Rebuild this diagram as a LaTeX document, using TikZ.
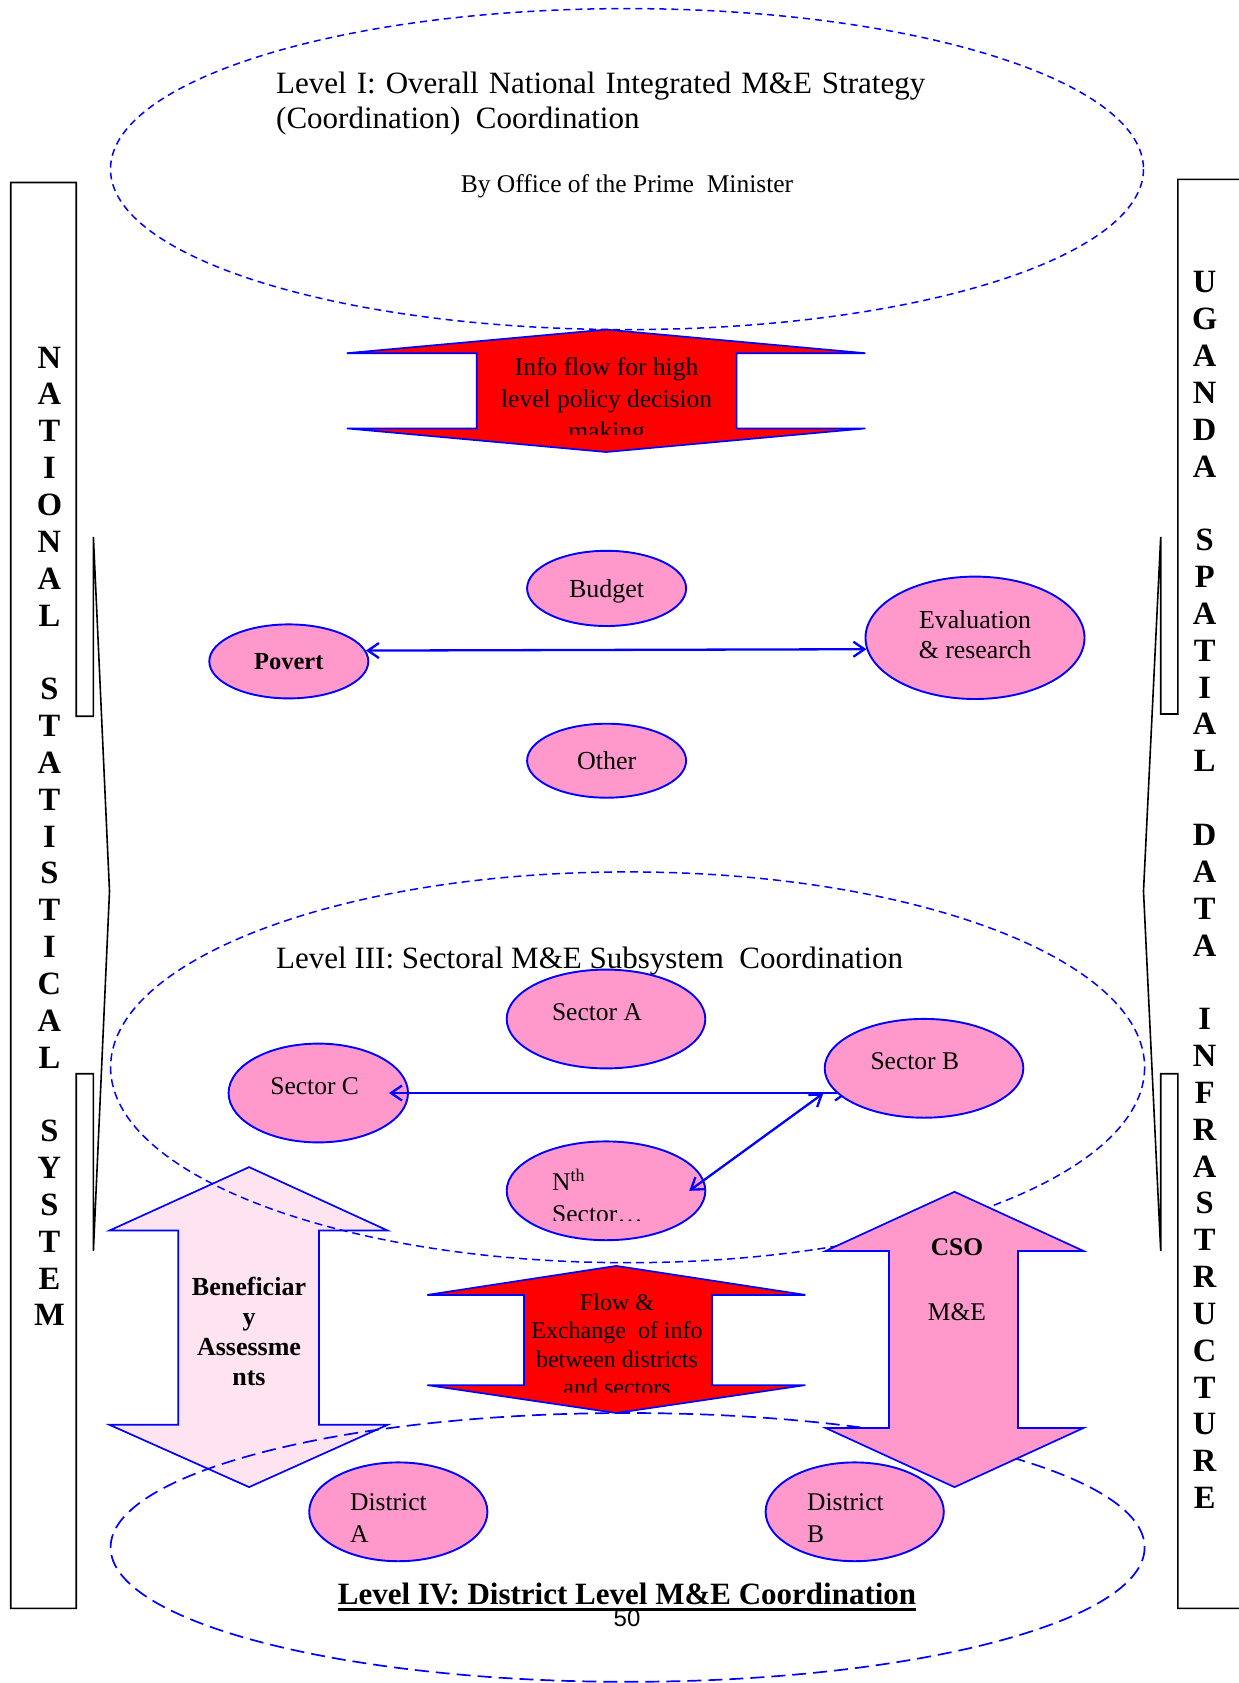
\documentclass[tikz,border=0pt]{standalone}
\usepackage{fontspec}
\setmainfont{Liberation Serif}
\newfontfamily\pagenumfont{Liberation Sans}
\usetikzlibrary{arrows.meta,shapes.geometric}

\definecolor{shapeblue}{RGB}{0,0,255}
\definecolor{bubblepink}{RGB}{255,153,204}
\definecolor{palepink}{RGB}{253,228,240}
\definecolor{flowred}{RGB}{255,0,0}

\newcommand{\fs}[2]{\fontsize{#1bp}{#2bp}\selectfont}
\newcommand{\tstrut}{\rule{0pt}{1em}}

\begin{document}
\begin{tikzpicture}[x=1bp, y=-1bp,
  ring/.style={draw=shapeblue, line width=1.5bp},
  bubble/.style={ellipse, draw=shapeblue, fill=bubblepink, line width=1.9bp,
    inner sep=0pt, align=center, font=\fs{26}{30}},
  blockarrow/.style={draw=shapeblue, line width=1.7bp, line join=miter},
  callout/.style={draw=black, line width=1.6bp, line join=miter},
  sideletters/.style={font=\bfseries\fs{32.5}{36.84}, align=center, inner sep=0pt},
  textblock/.style={anchor=north, inner sep=0pt, align=center},
  labeltext/.style={inner sep=0pt, font=\fs{25.5}{32}},
  link/.style={draw=shapeblue, line width=2.3bp,
    {Straight Barb[length=11bp,width=15bp]}-{Straight Barb[length=11bp,width=15bp]}},
]
\useasboundingbox (0,0) rectangle (1238,1683);

% side callouts
\draw[callout] (10.7,182.5) -- (76.2,182.5) -- (76.2,716.2) -- (93.4,716.2) -- (93.4,536.9)
  -- (109.5,891.2) -- (93.4,1250.9) -- (93.4,1073.7) -- (76.2,1073.7) -- (76.2,1608.4)
  -- (10.7,1608.4) -- cycle;
\draw[callout] (1250,179.3) -- (1177.9,179.3) -- (1177.9,714) -- (1160.7,714) -- (1160.7,536.9)
  -- (1143.5,891.2) -- (1160.7,1250.9) -- (1160.7,1073.7) -- (1177.9,1073.7) -- (1177.9,1608.4)
  -- (1250,1608.4);

% beneficiary assessments double arrow
\draw[blockarrow, fill=palepink] (249.1,1167.1) -- (387.6,1230.5) -- (318.9,1230.5) -- (318.9,1424.8)
  -- (387.6,1424.8) -- (249.1,1487.1) -- (109.5,1424.8) -- (178.2,1424.8) -- (178.2,1230.5)
  -- (109.5,1230.5) -- cycle;

% coordination levels
\draw[ring, dash pattern=on 7bp off 5bp] (627,169.1) ellipse [x radius=516.5, y radius=160.5];
\draw[ring, dash pattern=on 8bp off 5bp] (627.6,1067.3) ellipse [x radius=517, y radius=195.4];
\draw[ring, line width=1.7bp, dash pattern=on 14bp off 7bp] (627.6,1547.4) ellipse [x radius=517, y radius=134.4];

% level I texts
\node[anchor=base west, inner sep=0pt, font=\fs{31}{35.5}] (lvl1a) at (276,93.8)
  {\makebox[649bp][s]{Level I: Overall National Integrated M\&E Strategy}};
\node[anchor=base west, inner sep=0pt, font=\fs{31}{35.5}] (lvl1b) at (276,128.8)
  {(Coordination)\ \ Coordination};
\node[anchor=base, inner sep=0pt, font=\fs{25.5}{30}] (opm) at (627,192.2)
  {By Office of the Prime\ \ Minister};

% high level info flow arrow
\draw[blockarrow, fill=flowred] (606.1,329.6) -- (865.4,353.2) -- (736.6,353.2) -- (736.6,428.4)
  -- (865.4,428.4) -- (606.1,452) -- (346.8,428.4) -- (476.7,428.4) -- (476.7,353.2)
  -- (346.8,353.2) -- cycle;
\begin{scope}
  \clip (420,330) rectangle (800,434);
  \node[textblock, font=\fs{25.5}{32}] (infotext) at (606.6,350)
    {\tstrut Info flow for high\\level policy decision\\making};
\end{scope}

% level II bubbles
\node[bubble, minimum width=159bp, minimum height=75.2bp] (budget) at (606.6,588.4)
  {\rule{0pt}{23bp}Budget};
\node[bubble, minimum width=159bp, minimum height=74bp, font=\bfseries\fs{24.5}{30}] (pov) at (288.8,661.4) {Povert};
\node[bubble, minimum width=219bp, minimum height=122.4bp, font=\fs{25.8}{30}] (eval) at (975,637.8)
  {Evaluation\\\& research\rule[-7bp]{0pt}{7bp}};
\node[bubble, minimum width=159bp, minimum height=74bp] (other) at (606.6,760.7) {Other};
\draw[link] (pov.8.9) -- (eval.186.3);

% level III
\node[anchor=base west, inner sep=0pt, font=\fs{31}{35.5}] (lvl3) at (276,968.2)
  {Level III: Sectoral M\&E Subsystem\ \ Coordination};
\node[bubble, minimum width=198.6bp, minimum height=98.8bp] (secA) at (606,1019) {};
\node[bubble, minimum width=179.4bp, minimum height=98.8bp] (secC) at (318.3,1093) {};
\node[bubble, minimum width=198.6bp, minimum height=98.8bp] (nth) at (606,1190.8) {};
\node[labeltext, anchor=base] (secAtext) at (597,1020) {Sector A};
\node[labeltext, anchor=base] (secCtext) at (314.6,1094.1) {Sector C};
\begin{scope}
  \clip (540,1140) rectangle (700,1220);
  \node[labeltext, anchor=north west, align=left] (nthtext) at (552,1164.5)
    {\tstrut N\textsuperscript{th}\\Sector\ldots};
\end{scope}
% Sector B sits over the ends of the two links that meet it
\coordinate (secBc) at (924,1068.3);
\coordinate (jb) at ([shift={(-76,24.7)}]secBc);
\coordinate (jd) at ([shift={(-100.7,25)}]secBc);
\draw[link] ([xshift=-20bp]secC.east) -- (jb);
\draw[link] (jd) -- ([xshift=-17bp]nth.east);
\node[bubble, minimum width=198.6bp, minimum height=98.8bp] (secB) at (secBc) {};
\node[labeltext, anchor=base] (secBtext) at (914.8,1069.4) {Sector B};

% exchange between districts and sectors
\draw[blockarrow, fill=flowred] (616.3,1265.9) -- (805.3,1294.9) -- (711.9,1294.9) -- (711.9,1385.1)
  -- (805.3,1385.1) -- (616.3,1413) -- (427.3,1385.1) -- (524,1385.1) -- (524,1294.9)
  -- (427.3,1294.9) -- cycle;
\begin{scope}
  \clip (520,1270) rectangle (715,1392);
  \node[textblock, font=\fs{24}{28.4}] (flowtext) at (617,1286)
    {\tstrut Flow \&\\Exchange\ \ of info\\between districts\\and sectors};
\end{scope}

% CSO M&E double arrow
\draw[blockarrow, fill=bubblepink] (954.5,1191.8) -- (1083.4,1250.9) -- (1017.9,1250.9) -- (1017.9,1428)
  -- (1083.4,1428) -- (954.5,1487.1) -- (825.7,1428) -- (889,1428) -- (889,1250.9)
  -- (825.7,1250.9) -- cycle;
\node[textblock, font=\fs{25.5}{32.5}] (csotext) at (957,1229.5)
  {\tstrut\textbf{CSO}\\[32.5bp]M\&E};

\node[textblock, font=\bfseries\fs{26}{30}] (benefit) at (249,1269)
  {\tstrut Beneficiar\\y\\Assessme\\nts};

% level IV
\node[bubble, minimum width=178.2bp, minimum height=98.8bp] (distA) at (398.3,1511.8) {};
\node[bubble, minimum width=178.2bp, minimum height=98.8bp] (distB) at (854.7,1511.8) {};
\node[labeltext, anchor=north west, align=left] (distAtext) at (350,1485) {\tstrut District\\A};
\node[labeltext, anchor=north west, align=left] (distBtext) at (807,1485) {\tstrut District\\B};

\node[anchor=base, inner sep=0pt, font=\bfseries\fs{31}{35}] (lvl4) at (627,1604)
  {Level IV: District Level M\&E Coordination};
\draw[line width=2.4bp] ([yshift=-5.5bp]lvl4.base west) -- ([yshift=-5.5bp]lvl4.base east);
\node[anchor=base, inner sep=0pt, font=\pagenumfont\fs{24}{28}] (pagenum) at (627,1626.7) {50};

% vertical side titles
\node[sideletters] (nss) at (49.4,836.4)
  {N\\A\\T\\I\\O\\N\\A\\L\\[36.84bp]S\\T\\A\\T\\I\\S\\T\\I\\C\\A\\L\\[36.84bp]S\\Y\\S\\T\\E\\M};
\node[sideletters] (usdi) at (1204.7,890.1)
  {U\\G\\A\\N\\D\\A\\[36.84bp]S\\P\\A\\T\\I\\A\\L\\[36.84bp]D\\A\\T\\A\\[36.84bp]I\\N\\F\\R\\A\\S\\T\\R\\U\\C\\T\\U\\R\\E};
\end{tikzpicture}
\end{document}
